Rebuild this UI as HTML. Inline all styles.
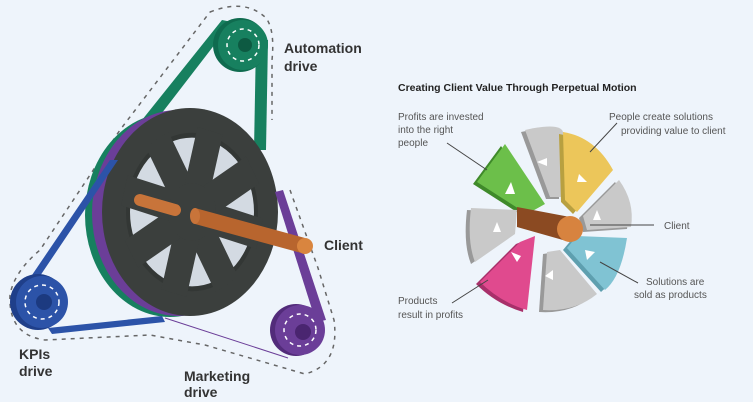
<!DOCTYPE html>
<html><head><style>
html,body{margin:0;padding:0;background:#fff}
svg{display:block}
text{font-family:"Liberation Sans",sans-serif}
</style></head><body>
<svg width="753" height="412" viewBox="0 0 753 412">
<rect x="0" y="0" width="753" height="402" fill="#eef4fb"/>
<rect x="0" y="402" width="753" height="10" fill="#fff"/>
<!-- dashed outline -->
<path d="M210,12 Q245,-2 266,18 Q275,30 272,60 L272,120 M290,190 L318,268 L334,320 Q340,365 305,374 L205,345 L150,335 L45,340 Q8,335 10,295 Q14,272 40,250 L120,130 L210,12" fill="none" stroke="#666" stroke-width="1.5" stroke-dasharray="4,5"/>
<!-- belts behind -->
<polygon points="222,20 232,22 118,170 106,165" fill="#17805f"/>
<polygon points="256,40 268,40 266,150 254,150" fill="#17805f"/>
<!-- rims -->
<ellipse cx="170" cy="215" rx="85" ry="102" fill="#17805f"/>
<ellipse cx="178" cy="213" rx="86" ry="103" fill="#6b3e98"/>
<ellipse cx="190" cy="212" rx="88" ry="104" fill="#3b3f3d"/>
<g transform="translate(192,212) scale(1,1.2)">
<circle r="64" fill="#d3dae2"/>
<circle r="64" fill="none" stroke="#333735" stroke-width="4"/>
<g stroke="#3b3f3d" stroke-width="26">
<line x1="0" y1="0" x2="70" y2="0" transform="rotate(15)"/>
<line x1="0" y1="0" x2="70" y2="0" transform="rotate(60)"/>
<line x1="0" y1="0" x2="70" y2="0" transform="rotate(105)"/>
<line x1="0" y1="0" x2="70" y2="0" transform="rotate(150)"/>
<line x1="0" y1="0" x2="70" y2="0" transform="rotate(195)"/>
<line x1="0" y1="0" x2="70" y2="0" transform="rotate(240)"/>
<line x1="0" y1="0" x2="70" y2="0" transform="rotate(285)"/>
<line x1="0" y1="0" x2="70" y2="0" transform="rotate(330)"/>
</g>
<circle r="24" fill="#3b3f3d"/>
</g>
<!-- blue belt -->
<polygon points="30,278 40,276 118,160 110,160" fill="#2c53a8"/>
<polygon points="48,328 52,334 165,322 162,316" fill="#2c53a8"/>
<!-- purple belt -->
<polygon points="275,192 283,190 326,320 316,322" fill="#6b3e98"/>
<line x1="165" y1="318" x2="288" y2="358" stroke="#6b3e98" stroke-width="1"/>
<!-- axle -->
<line x1="140" y1="200" x2="175" y2="210" stroke="#c8743a" stroke-width="12" stroke-linecap="round"/>
<polygon points="195,208 305,238 305,254 195,224" fill="#b8652e"/>
<ellipse cx="195" cy="216" rx="5" ry="8" fill="#c8743a"/>
<ellipse cx="305" cy="246" rx="8" ry="8" fill="#d9853f"/>
<!-- pulleys -->
<g><circle cx="240" cy="45" r="27" fill="#0f6b4f"/><circle cx="243" cy="45" r="25" fill="#17805f"/><circle cx="243" cy="45" r="16" fill="none" stroke="#fff" stroke-width="1.5" stroke-dasharray="4,4"/><circle cx="245" cy="45" r="7" fill="#0d5a42"/></g>
<g><circle cx="38" cy="302" r="28" fill="#1f3f8a"/><circle cx="42" cy="302" r="26" fill="#2c53a8"/><circle cx="42" cy="302" r="17" fill="none" stroke="#fff" stroke-width="1.5" stroke-dasharray="4,4"/><circle cx="44" cy="302" r="8" fill="#1c3a80"/></g>
<g><circle cx="296" cy="330" r="26" fill="#522b7a"/><circle cx="300" cy="330" r="25" fill="#6b3e98"/><circle cx="300" cy="330" r="16" fill="none" stroke="#fff" stroke-width="1.5" stroke-dasharray="4,4"/><circle cx="303" cy="332" r="8" fill="#4a2570"/></g>
<g font-weight="bold" font-size="14" fill="#333">
<text x="284" y="53">Automation</text><text x="284" y="71">drive</text>
<text x="324" y="250">Client</text>
<text x="19" y="359">KPIs</text><text x="19" y="376">drive</text>
<text x="184" y="381">Marketing</text><text x="184" y="397">drive</text>
</g>
<!-- right diagram -->
<text x="398" y="91" font-size="10.5" font-weight="bold" fill="#222">Creating Client Value Through Perpetual Motion</text>
<g transform="translate(555,222)">
<path d="M-28,-8 L-78,-40 L-50,-78 L-10,-18 Z" fill="#3f8a2a" transform="translate(-4,2)"/>
<path d="M-28,-8 L-78,-40 L-50,-78 L-10,-18 Z" fill="#6cbf4a"/>
<path d="M-5,-25 L-30,-92 Q5,-100 8,-90 L8,-25 Z" fill="#999" transform="translate(-4,2)"/>
<path d="M-5,-25 L-30,-92 Q5,-100 8,-90 L8,-25 Z" fill="#c9c9c9"/>
<path d="M10,-22 L8,-90 Q40,-85 58,-52 L22,-10 Z" fill="#b8a040" transform="translate(-4,2)"/>
<path d="M10,-22 L8,-90 Q40,-85 58,-52 L22,-10 Z" fill="#ecc65a"/>
<path d="M28,-6 L64,-42 Q80,-20 76,5 L32,8 Z" fill="#999" transform="translate(-4,2)"/>
<path d="M28,-6 L64,-42 Q80,-20 76,5 L32,8 Z" fill="#c9c9c9"/>
<path d="M22,14 L72,16 Q66,55 50,68 L12,26 Z" fill="#5e9faf" transform="translate(-4,2)"/>
<path d="M22,14 L72,16 Q66,55 50,68 L12,26 Z" fill="#80c3d3"/>
<path d="M5,28 L42,72 Q20,90 -12,88 L-8,30 Z" fill="#999" transform="translate(-4,2)"/>
<path d="M5,28 L42,72 Q20,90 -12,88 L-8,30 Z" fill="#c9c9c9"/>
<path d="M-20,14 L-28,88 Q-55,80 -75,60 L-35,20 Z" fill="#a8306a" transform="translate(-4,2)"/>
<path d="M-20,14 L-28,88 Q-55,80 -75,60 L-35,20 Z" fill="#e04a8e"/>
<path d="M-38,-12 L-84,-14 Q-88,20 -80,40 L-40,12 Z" fill="#999" transform="translate(-4,2)"/>
<path d="M-38,-12 L-84,-14 Q-88,20 -80,40 L-40,12 Z" fill="#c9c9c9"/>
<polygon points="-38,-15 15,-5 15,20 -38,5" fill="#8b4a22"/>
<circle cx="15" cy="7" r="13" fill="#d7833f"/>
<g fill="#fff">
<polygon points="-50,-28 -44,-40 -40,-28"/><polygon points="-18,-60 -8,-64 -8,-56"/><polygon points="24,-48 32,-40 22,-40"/>
<polygon points="42,-12 46,-2 38,-2"/><polygon points="40,30 32,38 30,28"/><polygon points="-10,54 -2,48 -2,58"/>
<polygon points="-34,34 -44,30 -38,40"/><polygon points="-62,10 -58,0 -54,10"/>
</g>
</g>
<g stroke="#444" stroke-width="1" fill="none">
<line x1="447" y1="143" x2="487" y2="170"/><line x1="617" y1="123" x2="590" y2="152"/>
<line x1="590" y1="225" x2="654" y2="225"/><line x1="600" y1="262" x2="638" y2="283"/>
<line x1="452" y1="303" x2="488" y2="280"/>
</g>
<g font-size="10" fill="#555">
<text x="398" y="120">Profits are invested</text><text x="398" y="133">into the right</text><text x="398" y="146">people</text>
<text x="609" y="120">People create solutions</text><text x="621" y="134">providing value to client</text>
<text x="664" y="229">Client</text>
<text x="646" y="285">Solutions are</text><text x="634" y="298">sold as products</text>
<text x="398" y="304">Products</text><text x="398" y="318">result in profits</text>
</g>
</svg>
</body></html>
